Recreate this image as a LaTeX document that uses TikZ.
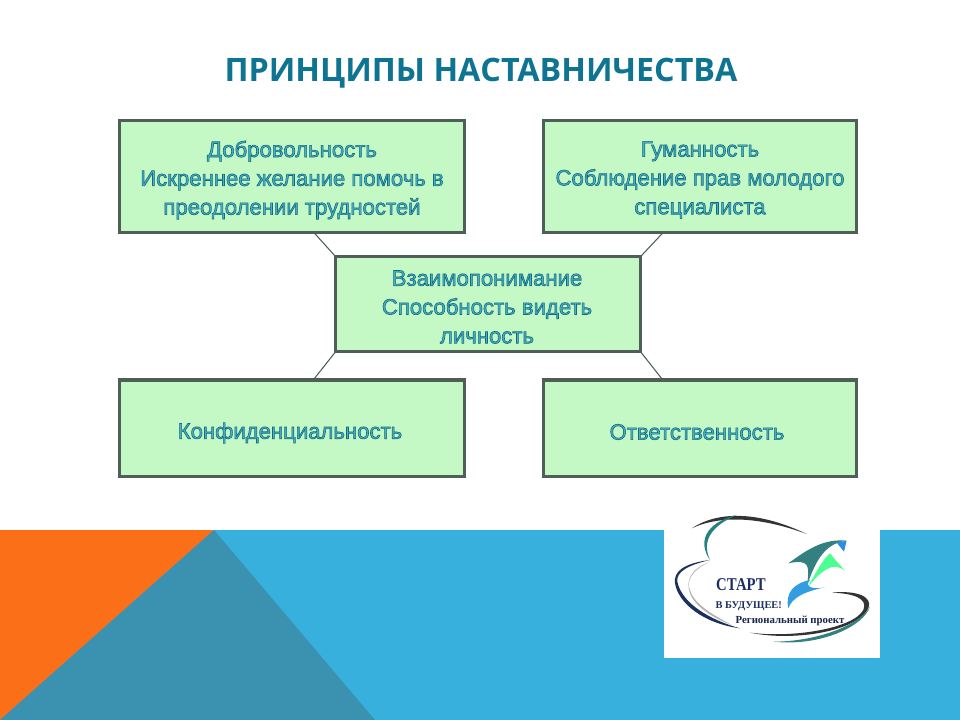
\documentclass[tikz,border=0pt]{standalone}
\usepackage{fontspec}
\setmainfont{Liberation Sans}
\newfontfamily\titlefont{Open Sans}
\newfontfamily\logofont{Liberation Serif}
\usetikzlibrary{calc}
\definecolor{boxfill}{HTML}{C4F8C4}
\definecolor{boxline}{HTML}{4F5F58}
\definecolor{titleblue}{HTML}{0E7492}
\definecolor{txtfill}{HTML}{4FB0BC}
\definecolor{orangeA}{HTML}{FB6F18}
\definecolor{blueA}{HTML}{38B0DE}
\definecolor{blueB}{HTML}{3B92B0}
\definecolor{navy}{HTML}{1C2F5E}
\newcommand{\outl}[1]{\special{pdf:code q 2 Tr 0.45 w 0.05 0.42 0.52 RG}#1\special{pdf:code Q}}
\tikzset{
 box/.style={draw=boxline,line width=2.3pt,fill=boxfill,outer sep=0pt,inner sep=0pt,anchor=north west},
 boxtxt/.style={align=center,text=txtfill,font=\fontsize{16.6}{21.6}\selectfont},
 link/.style={draw=boxline,line width=0.8pt},
}
\begin{document}
\begin{tikzpicture}[x=0.75pt,y=-0.75pt]
\useasboundingbox (0,0) rectangle (960,720);
\fill[white] (0,0) rectangle (960,720);
% background bands
\fill[blueA] (0,530) rectangle (960,720);
\fill[orangeA] (0,530) -- (214,530) -- (0,720) -- cycle;
\fill[blueB] (214,530) -- (375,720) -- (0,720) -- cycle;
% title
\node (title) at (481,73) {\titlefont\bfseries\fontsize{24.2}{30}\selectfont\color{titleblue}ПРИНЦИПЫ НАСТАВНИЧЕСТВА};
% boxes
\node[box,minimum width=258bp,minimum height=84bp] (a) at (119.5,120.5) {};
\node[box,minimum width=234bp,minimum height=84bp] (b) at (543.5,120.5) {};
\node[box,minimum width=228bp,minimum height=71.25bp] (c) at (335.5,256.5) {};
\node[box,minimum width=258bp,minimum height=72bp] (d) at (119.5,380) {};
\node[box,minimum width=234bp,minimum height=72bp] (e) at (543.5,380) {};
% connectors
\coordinate (a1) at ($(a.south west)!0.564!(a.south east)$);
\coordinate (b1) at ($(b.south west)!0.381!(b.south east)$);
\coordinate (d1) at ($(d.north west)!0.561!(d.north east)$);
\coordinate (e1) at ($(e.north west)!0.381!(e.north east)$);
\draw[link] (a1) -- (c.north west);
\draw[link] (b1) -- (c.north east);
\draw[link] (d1) -- (c.south west);
\draw[link] (e1) -- (c.south east);
% texts
\node[boxtxt] (ta) at (292,180) {\outl{Добровольность\\Искреннее желание помочь в\\преодолении трудностей}};
\node[boxtxt] (tb) at (700,180) {\outl{Гуманность\\Соблюдение прав молодого\\специалиста}};
\node[boxtxt] (tc) at (487,307) {\outl{Взаимопонимание\\ Способность видеть\\личность}};
\node[boxtxt] (td) at (290,433) {\outl{Конфиденциальность}};
\node[boxtxt] (te) at (697,432) {\outl{Ответственность}};
% logo
\fill[white] (664,530) rectangle (880,658);
\begin{scope}[shift={(660,500)},x=0.25pt,y=-0.25pt]
 % big swooshes (coordinates in 3x crop pixels)
 \fill[navy] (150,180) .. controls (70,190) and (40,215) .. (45,250) .. controls (55,310) and (130,370) .. (240,385) .. controls (150,360) and (65,310) .. (52,245) .. controls (48,215) and (85,195) .. (150,180) -- cycle;
 \fill[gray!60] (150,185) .. controls (95,205) and (75,240) .. (90,280) .. controls (105,320) and (160,355) .. (215,375) .. controls (150,340) and (100,310) .. (88,265) .. controls (80,235) and (105,205) .. (150,185) -- cycle;
 \fill[black!80] (95,85) .. controls (170,35) and (290,30) .. (440,102) .. controls (300,50) and (180,45) .. (95,85) -- cycle;
 \fill[teal!70!gray] (150,180) .. controls (115,130) and (130,70) .. (230,45) .. controls (150,80) and (125,125) .. (150,180) -- cycle;
 \fill[black!80] (270,398) .. controls (400,425) and (590,395) .. (625,325) .. controls (640,290) and (590,270) .. (515,278) .. controls (580,280) and (625,295) .. (610,330) .. controls (580,385) and (400,415) .. (270,398) -- cycle;
 \fill[teal!60!gray] (340,425) .. controls (480,440) and (610,380) .. (630,320) .. controls (600,375) and (470,425) .. (340,425) -- cycle;
 % bird
 \fill[teal!60!gray] (385,190) .. controls (440,150) and (490,115) .. (560,122) .. controls (500,130) and (470,170) .. (440,260) .. controls (450,200) and (450,175) .. (385,190) -- cycle;
 \fill[green!60!cyan!70] (440,265) .. controls (470,215) and (490,175) .. (510,160) .. controls (525,180) and (545,200) .. (555,212) .. controls (520,185) and (490,205) .. (440,265) -- cycle;
 \fill[blueA!80!blue] (560,122) -- (552,155) -- (530,128) -- cycle;
 % hand
 \fill[blueA!90!blue] (450,240) .. controls (400,250) and (375,280) .. (385,325) .. controls (395,295) and (430,275) .. (495,262) .. controls (460,270) and (430,260) .. (450,240) -- cycle;
 \node[font=\logofont\bfseries\fontsize{13.5}{14}\selectfont,text=navy,anchor=west,inner sep=0pt,xscale=0.82] (l1) at (168,253) {СТАРТ};
 \node[font=\logofont\bfseries\fontsize{7.8}{9}\selectfont,text=navy,anchor=west,inner sep=0pt] (l2) at (166,318) {В БУДУЩЕЕ!};
 \node[font=\logofont\bfseries\fontsize{8.1}{9}\selectfont,text=navy!80!black,anchor=west,inner sep=0pt] (l3) at (226,362) {Региональный проект};
\end{scope}
\end{tikzpicture}
\end{document}
